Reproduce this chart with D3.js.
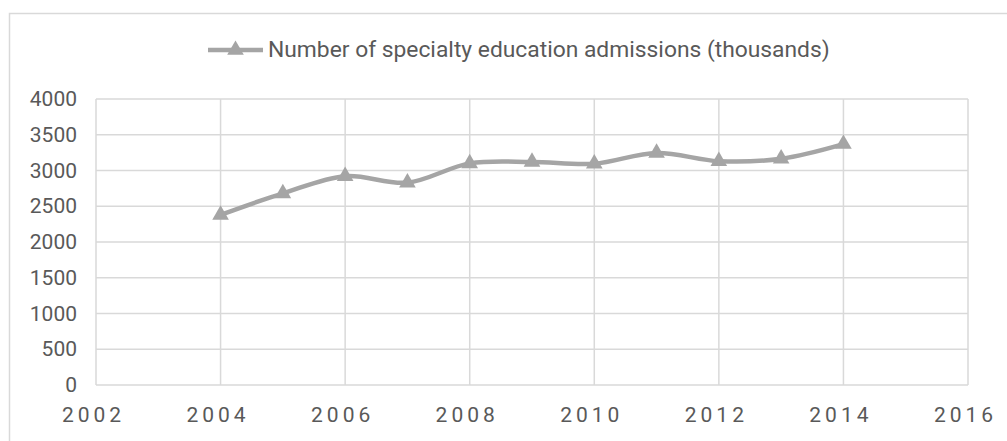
<!DOCTYPE html>
<html>
<head>
<meta charset="utf-8">
<script src="https://cdn.jsdelivr.net/npm/d3@7"></script>
<style>
  html, body { margin: 0; padding: 0; background: #fff; }
  svg { display: block; font-family: Roboto, "Noto Sans", sans-serif; }
</style>
</head>
<body>
<svg id="chart" width="1007" height="441"></svg>
<script>
const seriesName = "Number of specialty education admissions (thousands)";
const years = [2004, 2005, 2006, 2007, 2008, 2009, 2010, 2011, 2012, 2013, 2014];
const admissions = [2380, 2680, 2920, 2830, 3100, 3120, 3095, 3245, 3130, 3165, 3370];
const xTicks = [2002, 2004, 2006, 2008, 2010, 2012, 2014, 2016];
const yTicks = [0, 500, 1000, 1500, 2000, 2500, 3000, 3500, 4000];

const W = 1007, H = 441;
const margin = { left: 96, right: 39, top: 99, bottom: 56 };
const svg = d3.select("#chart");
const textColor = "#595959", gridColor = "#d9d9d9", lineColor = "#a5a5a5";

// outer chart border
svg.append("rect").attr("x", 9.5).attr("y", 13.5).attr("width", 1010).attr("height", 460)
  .attr("fill", "none").attr("stroke", gridColor).attr("stroke-width", 1.5);

const x = d3.scaleLinear().domain([2002, 2016]).range([margin.left, W - margin.right]);
const y = d3.scaleLinear().domain([0, 4000]).range([H - margin.bottom, margin.top]);

// gridlines
svg.append("g").selectAll("line").data(yTicks).join("line")
  .attr("x1", x(2002)).attr("x2", x(2016))
  .attr("y1", d => y(d)).attr("y2", d => y(d))
  .attr("stroke", gridColor).attr("stroke-width", 1.5);
svg.append("g").selectAll("line").data(xTicks).join("line")
  .attr("x1", d => x(d)).attr("x2", d => x(d))
  .attr("y1", y(0)).attr("y2", y(4000))
  .attr("stroke", gridColor).attr("stroke-width", 1.5);

// y axis labels
const yAxis = d3.axisLeft(y).tickValues(yTicks).tickFormat(d3.format("d")).tickSize(0).tickPadding(19);
const gy = svg.append("g").attr("transform", `translate(${margin.left},0)`).call(yAxis);
gy.select(".domain").remove();
gy.selectAll("text").attr("fill", textColor).style("font-size", "21px")
  .attr("font-family", "Roboto, 'Noto Sans', sans-serif");

// x axis labels
const xAxis = d3.axisBottom(x).tickValues(xTicks).tickFormat(d3.format("d")).tickSize(0).tickPadding(22);
const gx = svg.append("g").attr("transform", `translate(0,${y(0)})`).call(xAxis);
gx.select(".domain").remove();
gx.selectAll("text").attr("fill", textColor).style("font-size", "21px")
  .style("letter-spacing", "4px").attr("dx", "-3px")
  .attr("font-family", "Roboto, 'Noto Sans', sans-serif");

// line
const data = years.map((yr, i) => ({ yr, v: admissions[i] }));
const line = d3.line().x(d => x(d.yr)).y(d => y(d.v)).curve(d3.curveCatmullRom.alpha(0.5));
svg.append("path").datum(data).attr("d", line)
  .attr("fill", "none").attr("stroke", lineColor).attr("stroke-width", 4.5)
  .attr("stroke-linejoin", "round").attr("stroke-linecap", "round");

const tri = d3.symbol().type(d3.symbolTriangle).size(120);
svg.append("g").selectAll("path").data(data).join("path")
  .attr("d", tri)
  .attr("transform", d => `translate(${x(d.yr)},${y(d.v)})`)
  .attr("fill", lineColor);

// legend
const lg = svg.append("g");
lg.append("line").attr("x1", 208).attr("x2", 263).attr("y1", 50).attr("y2", 50)
  .attr("stroke", lineColor).attr("stroke-width", 4.5);
lg.append("path").attr("d", tri).attr("transform", "translate(235.5,50)").attr("fill", lineColor);
const lt = lg.append("text").attr("x", 268).attr("y", 57).attr("fill", textColor)
  .style("font-size", "21px").text(seriesName);
const len = lt.node().getComputedTextLength();
lt.style("font-size", (21 * 562 / len).toFixed(2) + "px");
</script>
</body>
</html>
